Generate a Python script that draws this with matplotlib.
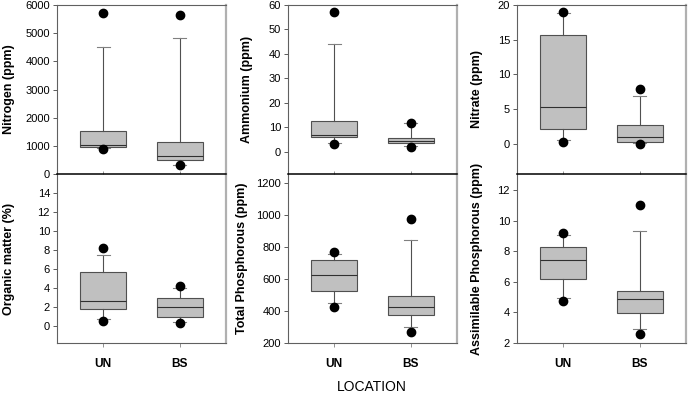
import numpy as np
import matplotlib
matplotlib.use("Agg")
import matplotlib.pyplot as plt

plt.rcParams['font.family'] = ['Liberation Sans', 'DejaVu Sans']

locations = ['UN', 'BS']

# order per location: p5, p10, q1, median, q3, p90, p95
nitrogen = [[900, 920, 950, 1040, 1540, 4500, 5730],
            [310, 330, 490, 640, 1150, 4820, 5650]]
organic = [[0.56, 0.70, 1.79, 2.59, 5.64, 7.42, 8.19],
           [0.28, 0.45, 0.98, 2.00, 2.90, 3.96, 4.24]]
ammonium = [[3.3, 3.5, 6.0, 7.1, 12.5, 44.1, 57.0],
            [1.9, 2.4, 3.5, 4.6, 5.6, 11.7, 11.9]]
phosphorous = [[425, 450, 525, 625, 717, 756, 769],
               [269, 300, 375, 427, 494, 842, 979]]
nitrate = [[0.24, 0.58, 2.1, 5.3, 15.7, 18.9, 18.95],
           [0.0, 0.1, 0.29, 1.0, 2.69, 6.88, 7.84]]
assimilable = [[4.73, 4.97, 6.16, 7.43, 8.26, 9.03, 9.21],
               [2.56, 2.89, 3.93, 4.86, 5.42, 9.34, 11.0]]

panels = [
    # (data, ylabel, ylim, yticks, column, row)
    (organic, 'Organic matter (%)', (-1.8, 16), np.arange(0, 15, 2), 0, 1),
    (phosphorous, 'Total Phosphorous (ppm)', (200, 1258), np.arange(200, 1201, 200), 1, 1),
    (assimilable, 'Assimilable Phosphorous (ppm)', (2, 13.05), np.arange(2, 13, 2), 2, 1),
    (nitrogen, 'Nitrogen (ppm)', (0, 6000), np.arange(0, 6001, 1000), 0, 0),
    (ammonium, 'Ammonium (ppm)', (-9, 60), np.arange(0, 61, 10), 1, 0),
    (nitrate, 'Nitrate (ppm)', (-4.4, 20), np.arange(0, 21, 5), 2, 0),
]

W, H = 700, 395
col_left = [57, 288, 517]
col_w = 169
row_top = [5, 174]
row_h = 169
label_x = [[-0.249, -0.249], [-0.207, -0.237], [-0.201, -0.201]]

fig = plt.figure(figsize=(7, 3.95), dpi=100)

for data, ylabel, ylim, yticks, c, r in panels:
    ax = fig.add_axes([col_left[c] / W, (H - row_top[r] - row_h) / H, col_w / W, row_h / H])
    ax.patch.set_visible(False)
    stats = []
    for d in data:
        stats.append(dict(whislo=d[1], q1=d[2], med=d[3], q3=d[4], whishi=d[5], fliers=[]))
    ax.bxp(stats, positions=[1, 2], widths=0.6, patch_artist=True, showfliers=False,
           boxprops=dict(facecolor='#c0c0c0', edgecolor='#505050', linewidth=0.8),
           medianprops=dict(color='#303030', linewidth=0.8),
           whiskerprops=dict(color='#505050', linewidth=0.8),
           capprops=dict(color='#808080', linewidth=0.8),
           capwidths=0.17)
    for i, d in enumerate(data):
        ax.plot([i + 1, i + 1], [d[0], d[6]], 'o', color='black', markersize=6, zorder=5)

    ax.set_xlim(0.4, 2.6)
    ax.set_ylim(*ylim)
    ax.set_yticks(yticks)
    ax.set_xticks([1, 2])
    ax.tick_params(axis='y', direction='out', length=3, width=0.6, color='#404040',
                   labelsize=8, pad=2)
    ax.tick_params(axis='x', direction='out', length=3, width=0.6, color='#808080')
    ax.set_ylabel(ylabel, fontsize=9, fontweight='bold')
    ax.yaxis.set_label_coords(label_x[c][r], 0.5)

    for s in ['left', 'top', 'bottom']:
        ax.spines[s].set_color('#606060')
        ax.spines[s].set_linewidth(0.8)
    ax.spines['right'].set_color('#b0b0b0')
    ax.spines['right'].set_linewidth(1.6)

    if r == 0:
        ax.set_xticklabels([])
        ax.spines['bottom'].set_color('black')
        ax.spines['bottom'].set_linewidth(1.1)
        ax.spines['bottom'].set_zorder(10)
        ax.tick_params(axis='x', direction='in', length=2)
    else:
        ax.spines['top'].set_visible(False)
        ax.set_xticklabels(locations, fontsize=8.6, fontweight='bold')
        ax.tick_params(axis='x', pad=8)

fig.text(372 / W, (H - 387) / H, 'LOCATION', fontsize=10, ha='center', va='center')

fig.savefig('out.png', dpi=100)
